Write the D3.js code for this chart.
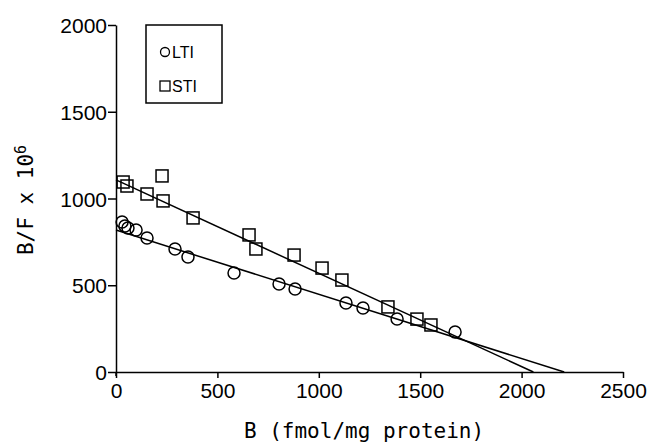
<!DOCTYPE html>
<html>
<head>
<meta charset="utf-8">
<script src="https://cdn.jsdelivr.net/npm/d3@7.9.0/dist/d3.min.js"></script>
<style>
  body { margin: 0; background: #fff; }
  svg { display: block; }
  .tick text { font-family: "Liberation Sans", Arial, sans-serif; font-size: 21px; fill: #000; }
  .domain, .tick line { stroke: #000; stroke-width: 1.5px; }
</style>
</head>
<body>
<svg id="chart" width="648" height="444"></svg>
<script>
// LTI (circles) and STI (squares): B (fmol/mg protein) vs B/F x 10^6
const ltiB = [30, 44, 59, 99, 153, 291, 355, 582, 804, 883, 1134, 1218, 1386, 1672];
const ltiBF = [865, 841, 830, 818, 772, 709, 663, 571, 507, 478, 398, 369, 305, 231];
const stiB = [35, 54, 227, 153, 232, 380, 656, 690, 878, 1016, 1114, 1341, 1484, 1553];
const stiBF = [1095, 1072, 1130, 1026, 986, 888, 790, 709, 674, 599, 530, 375, 305, 271];

// fitted lines, end points [B, B/F]
const ltiLine = [[0, 818], [2210, 0]];
const stiLine = [[0, 1107], [2058, 0]];

const xTicks = [0, 500, 1000, 1500, 2000, 2500];
const yTicks = [0, 500, 1000, 1500, 2000];

const svg = d3.select('#chart');

const x = d3.scaleLinear().domain([0, 2500]).range([116, 623]);
const y = d3.scaleLinear().domain([0, 2000]).range([372, 25]);

// axes
svg.append('g')
  .attr('transform', `translate(0,${y(0)})`)
  .call(d3.axisBottom(x).tickValues(xTicks).tickFormat(d3.format('d'))
    .tickSize(6).tickSizeOuter(0).tickPadding(5));

svg.append('g')
  .attr('transform', `translate(${x(0)},0)`)
  .call(d3.axisLeft(y).tickValues(yTicks).tickFormat(d3.format('d'))
    .tickSize(8).tickSizeOuter(0).tickPadding(1))
  .selectAll('.tick text').attr('dy', '0.36em');

// small bit of the y axis below the x axis
svg.append('line')
  .attr('x1', x(0)).attr('x2', x(0))
  .attr('y1', y(0)).attr('y2', y(0) + 4)
  .attr('stroke', '#000').attr('stroke-width', 1.5);

// regression lines
const line = d3.line().x(d => x(d[0])).y(d => y(d[1]));
[ltiLine, stiLine].forEach(l => {
  svg.append('path')
    .attr('d', line(l))
    .attr('fill', 'none')
    .attr('stroke', '#000')
    .attr('stroke-width', 1.5);
});

// LTI points
const lti = ltiB.map((b, i) => ({ b, v: ltiBF[i] }));
svg.append('g').selectAll('circle')
  .data(lti)
  .enter()
  .append('circle')
  .attr('cx', d => x(d.b))
  .attr('cy', d => y(d.v))
  .attr('r', 6)
  .attr('fill', 'none')
  .attr('stroke', '#000')
  .attr('stroke-width', 1.5);

// STI points
const sq = 12;
const sti = stiB.map((b, i) => ({ b, v: stiBF[i] }));
svg.append('g').selectAll('rect')
  .data(sti)
  .enter()
  .append('rect')
  .attr('x', d => x(d.b) - sq / 2)
  .attr('y', d => y(d.v) - sq / 2)
  .attr('width', sq)
  .attr('height', sq)
  .attr('fill', 'none')
  .attr('stroke', '#000')
  .attr('stroke-width', 1.5);

// legend
const legend = svg.append('g');
legend.append('rect')
  .attr('x', 146).attr('y', 25)
  .attr('width', 76).attr('height', 78)
  .attr('fill', '#fff')
  .attr('stroke', '#000')
  .attr('stroke-width', 1.5);
legend.append('circle')
  .attr('cx', 165).attr('cy', 52).attr('r', 4.5)
  .attr('fill', 'none').attr('stroke', '#000').attr('stroke-width', 1.3);
legend.append('rect')
  .attr('x', 160).attr('y', 81).attr('width', 10).attr('height', 10)
  .attr('fill', 'none').attr('stroke', '#000').attr('stroke-width', 1.3);
legend.selectAll('text')
  .data([['LTI', 58], ['STI', 92]])
  .enter()
  .append('text')
  .attr('x', 172)
  .attr('y', d => d[1])
  .attr('font-family', '"Liberation Sans", Arial, sans-serif')
  .attr('font-size', 16)
  .text(d => d[0]);

// axis titles
svg.append('text')
  .attr('x', 364)
  .attr('y', 438)
  .attr('text-anchor', 'middle')
  .attr('font-family', '"DejaVu Sans Mono", monospace')
  .attr('font-size', 21)
  .text('B (fmol/mg protein)');

const yTitle = svg.append('text')
  .attr('transform', 'translate(33,200) rotate(-90)')
  .attr('text-anchor', 'middle')
  .attr('font-family', '"DejaVu Sans Mono", monospace')
  .attr('font-size', 21);
yTitle.append('tspan').text('B/F x 10');
yTitle.append('tspan').attr('dy', '-0.45em').attr('font-size', 15).text('6');
</script>
</body>
</html>
